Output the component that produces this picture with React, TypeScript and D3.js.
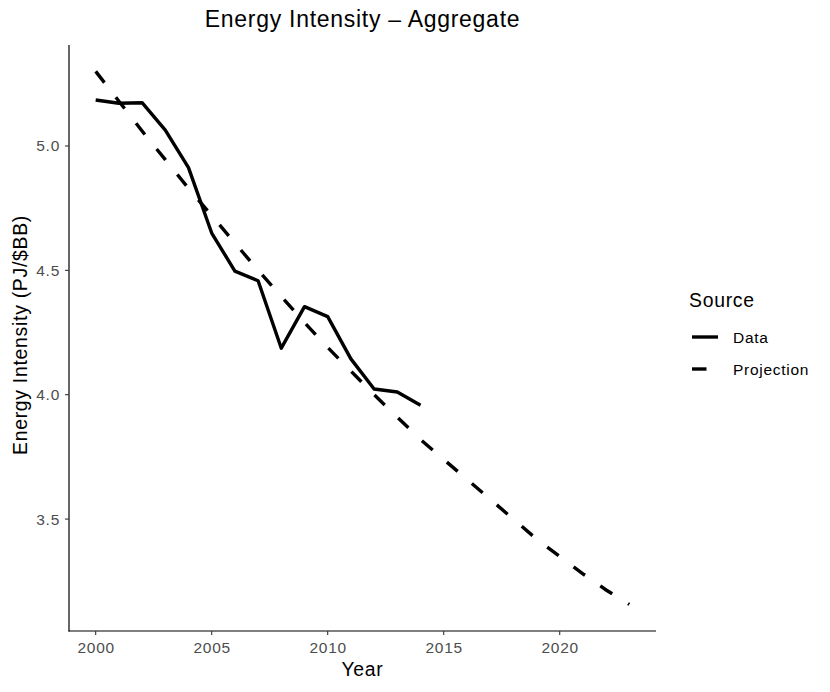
import React from "react";
import * as d3 from "d3";

const years = d3.range(2000, 2015);
const dataValues = [5.185, 5.172, 5.174, 5.064, 4.913, 4.65, 4.497, 4.458, 4.187, 4.354, 4.314, 4.144, 4.023, 4.011, 3.958];
const projYears = d3.range(2000, 2024);
const projValues = [5.30, 5.18, 5.06, 4.945, 4.83, 4.72, 4.61, 4.50, 4.395, 4.29, 4.19, 4.095, 4.0, 3.91, 3.82, 3.74, 3.66, 3.58, 3.50, 3.42, 3.35, 3.28, 3.215, 3.157];
const xTicks = [2000, 2005, 2010, 2015, 2020];
const yTicks = [3.5, 4.0, 4.5, 5.0];
const legendLabels = ["Data", "Projection"];

const W = 830, H = 692;
const left = 69, right = 656, top = 45, bottom = 631;
const font = "'Liberation Sans', Arial, Helvetica, sans-serif";
const ls = "0.045em";

export default function App() {
  const x = d3.scaleLinear().domain([1998.85, 2024.15]).range([left, right]);
  const y = d3.scaleLinear().domain([3.05, 5.406]).range([bottom, top]);
  const line = d3.line<[number, number]>().x(d => x(d[0])).y(d => y(d[1]));
  const dataPts: [number, number][] = years.map((yr, i) => [yr, dataValues[i]]);
  const projPts: [number, number][] = projYears.map((yr, i) => [yr, projValues[i]]);
  const lw = 3.4;
  // dash pattern: ~14.5 on / 19 off, adjusted so the path ends right at the start of a dash
  let L = 0;
  for (let i = 1; i < projPts.length; i++) {
    L += Math.hypot(x(projPts[i][0]) - x(projPts[i - 1][0]), y(projPts[i][1]) - y(projPts[i - 1][1]));
  }
  const n = Math.round((L - 1.5) / 33.5);
  const period = (L - 1.5) / n;
  const on = period * 14.5 / 33.5;
  const dash = `${on},${period - on}`;
  const legendDash = "14.5,19";
  return (
    <svg width={W} height={H} style={{ position: "absolute", left: 0, top: 0 }} fontFamily={font} letterSpacing={ls}>
      <rect width={W} height={H} fill="#fff" />
      <text x={(left + right) / 2} y={26.5} textAnchor="middle" fontSize={23} fill="#000">Energy Intensity – Aggregate</text>
      <path d={line(dataPts) || ""} fill="none" stroke="#000" strokeWidth={lw} strokeLinejoin="round" />
      <path d={line(projPts) || ""} fill="none" stroke="#000" strokeWidth={lw} strokeDasharray={dash} />
      <line x1={left} x2={left} y1={top} y2={bottom + 0.5} stroke="#000" strokeWidth={1.2} />
      <line x1={left - 0.5} x2={right} y1={bottom} y2={bottom} stroke="#000" strokeWidth={1.2} />
      {xTicks.map(t => (
        <g key={t}>
          <line x1={x(t)} x2={x(t)} y1={bottom} y2={bottom + 4} stroke="#333" strokeWidth={1.1} />
          <text x={x(t) + 0.5} y={bottom + 21.5} textAnchor="middle" fontSize={15.5} fill="#4D4D4D">{t}</text>
        </g>
      ))}
      {yTicks.map(t => (
        <g key={t}>
          <line x1={left - 4} x2={left} y1={y(t)} y2={y(t)} stroke="#333" strokeWidth={1.1} />
          <text x={left - 9} y={y(t) + 5.5} textAnchor="end" fontSize={15.5} fill="#4D4D4D">{t.toFixed(1)}</text>
        </g>
      ))}
      <text x={(left + right) / 2} y={676} textAnchor="middle" fontSize={19.4} fill="#000">Year</text>
      <text transform={`translate(27,${(top + bottom) / 2 - 3}) rotate(-90)`} textAnchor="middle" fontSize={19.4} fill="#000">Energy Intensity (PJ/$BB)</text>
      <text x={689} y={306.5} fontSize={19.4} fill="#000">Source</text>
      {legendLabels.map((lab, i) => (
        <g key={lab}>
          <line x1={692} x2={718} y1={337 + i * 32} y2={337 + i * 32} stroke="#000" strokeWidth={lw} strokeDasharray={i === 1 ? legendDash : undefined} />
          <text x={733} y={343 + i * 32} fontSize={15.5} fill="#000">{lab}</text>
        </g>
      ))}
    </svg>
  );
}
